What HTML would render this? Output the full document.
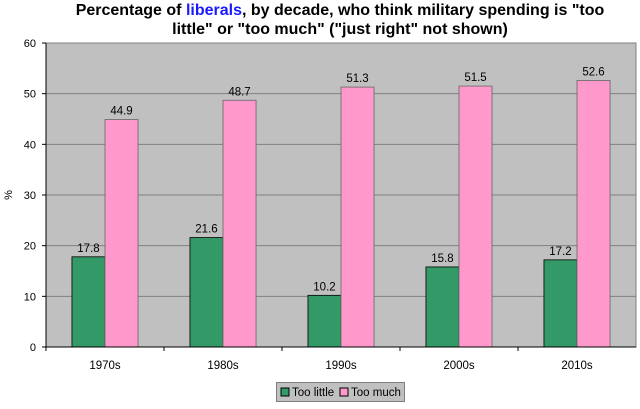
<!DOCTYPE html>
<html><head><meta charset="utf-8"><style>
body{margin:0;background:#fff;font-family:"Liberation Sans",Arial,sans-serif}
svg text{font-family:"Liberation Sans",Arial,sans-serif}
</style></head><body>
<svg id="c" width="640" height="404">
<text x="340" y="15" text-anchor="middle" font-size="16" font-weight="bold" fill="#000">Percentage of <tspan fill="#1a1aff">liberals</tspan>, by decade, who think military spending is "too</text>
<text x="340" y="34" text-anchor="middle" font-size="16" font-weight="bold" fill="#000">little" or "too much" ("just right" not shown)</text>
<rect x="46" y="43" width="590" height="304" fill="#c0c0c0" stroke="#808080"/>
<g id="grid"></g><g id="bars"></g><g id="axes"></g>
<text x="12" y="195" font-size="11" transform="rotate(-90 12 195)" text-anchor="middle">%</text>
<g>
<rect x="276.5" y="382.5" width="128" height="19" fill="#c0c0c0" stroke="#808080"/>
<rect x="281" y="388" width="8" height="8" fill="#339966" stroke="#000"/>
<text x="292" y="396" font-size="11.5">Too little</text>
<rect x="340" y="388" width="8" height="8" fill="#ff99cc" stroke="#000"/>
<text x="351" y="396" font-size="11.5">Too much</text>
</g>
</svg>
<script>
const categories=["1970s","1980s","1990s","2000s","2010s"];
const tooLittle=[17.8,21.6,10.2,15.8,17.2];
const tooMuch=[44.9,48.7,51.3,51.5,52.6];
const yTicks=[0,10,20,30,40,50,60];
const NS="http://www.w3.org/2000/svg";
const L=46,R=636,T=43,B=347,yMax=60;
const y=v=>B-(v/yMax)*(B-T);
const bw=(R-L)/categories.length;
const x=i=>L+bw*i;
function mk(tag,attrs,parent,txt){const e=document.createElementNS(NS,tag);for(const k in attrs)e.setAttribute(k,attrs[k]);if(txt!=null)e.textContent=txt;document.getElementById(parent).appendChild(e);return e;}
yTicks.forEach(t=>{
 if(t>0&&t<yMax){const g=mk("line",{x1:L,x2:R,y1:y(t),y2:y(t),stroke:"#808080"},"grid");
 
 }
 const tk=mk("line",{x1:L-4,x2:L,y1:y(t),y2:y(t),stroke:"#000"},"axes");
 
 
 const lb=mk("text",{x:L-10,y:y(t)+4,"font-size":11,"text-anchor":"end"},"axes",t);
 
 
});
mk("line",{x1:L,x2:L,y1:T,y2:B,stroke:"#000"},"axes");
mk("line",{x1:L,x2:R,y1:B,y2:B,stroke:"#000"},"axes");
categories.forEach((c,i)=>{
 const tk=mk("line",{x1:x(i),x2:x(i),y1:B,y2:B+4,stroke:"#000"},"axes");
 
 
 const cx=x(i)+bw/2, w=bw*0.28;
 const lb=mk("text",{x:cx,y:B+22,"font-size":11.5,"text-anchor":"middle"},"axes",c);
 
 
 const g=mk("rect",{x:cx-w,y:y(tooLittle[i]),width:w,height:B-y(tooLittle[i]),fill:"#339966",stroke:"#000","stroke-width":0.8},"bars");
 
 
 const p=mk("rect",{x:cx,y:y(tooMuch[i]),width:w,height:B-y(tooMuch[i]),fill:"#ff99cc",stroke:"#666","stroke-width":0.8},"bars");
 
 
 const l1=mk("text",{x:cx-w/2,y:y(tooLittle[i])-5,"font-size":11.5,"text-anchor":"middle"},"bars",tooLittle[i]);
 
 
 const l2=mk("text",{x:cx+w/2,y:y(tooMuch[i])-5,"font-size":11.5,"text-anchor":"middle"},"bars",tooMuch[i]);
 
 
});
</script>
</body></html>
